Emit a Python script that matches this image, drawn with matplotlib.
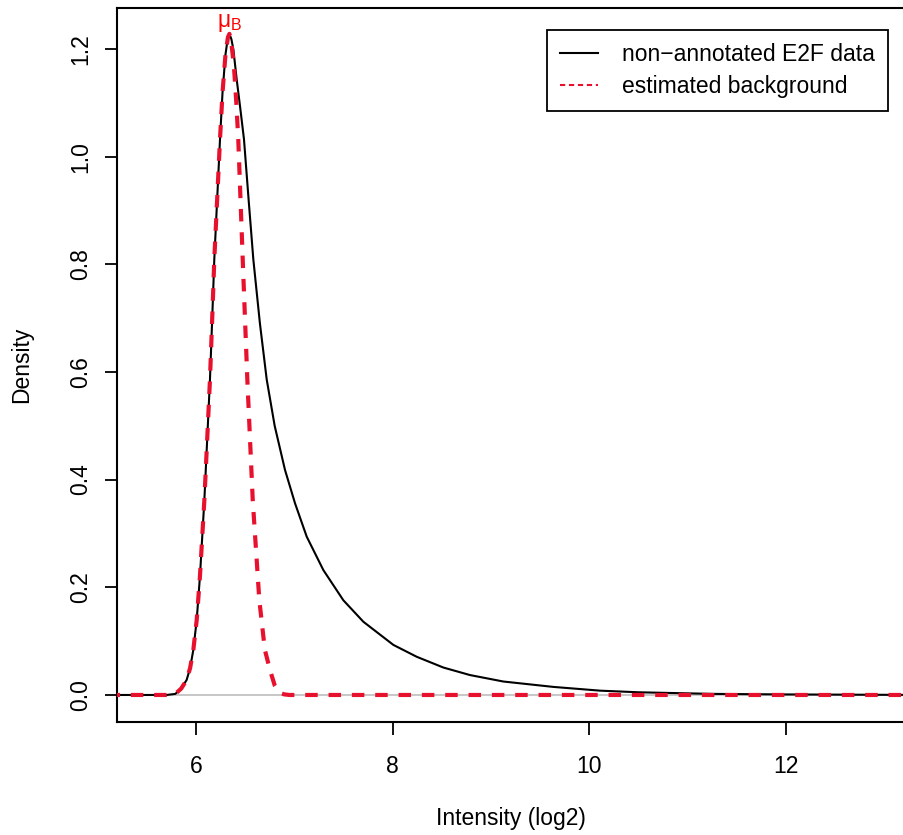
import matplotlib
matplotlib.use("Agg")
import matplotlib.pyplot as plt
from matplotlib.lines import Line2D

plt.rcParams['font.family'] = ['Liberation Sans', 'DejaVu Sans']
plt.rcParams['mathtext.fontset'] = 'custom'
plt.rcParams['mathtext.rm'] = 'Liberation Sans'

data_x = [5.10, 5.70, 5.79, 5.85, 5.905, 5.94, 5.973, 6.007, 6.04, 6.085, 6.11, 6.142,
          6.165, 6.186, 6.215, 6.244, 6.27, 6.30, 6.325, 6.34, 6.36, 6.38, 6.414, 6.45,
          6.488, 6.535, 6.583, 6.65, 6.719, 6.80, 6.905, 7.007, 7.126, 7.295, 7.498,
          7.702, 8.007, 8.244, 8.515, 8.786, 9.125, 9.633, 10.11, 10.5, 11.26, 12.0,
          13.0, 14.0]
data_y = [0.0, 0.0, 0.002, 0.012, 0.028, 0.05, 0.084, 0.139, 0.22, 0.362, 0.46, 0.586,
          0.70, 0.809, 0.92, 1.032, 1.12, 1.19, 1.222, 1.228, 1.218, 1.199, 1.143, 1.09,
          1.032, 0.92, 0.809, 0.69, 0.586, 0.50, 0.418, 0.356, 0.294, 0.232, 0.176,
          0.136, 0.093, 0.071, 0.051, 0.037, 0.025, 0.015, 0.008, 0.005, 0.002, 0.001,
          0.0003, 0.0]

# Estimated background density
bg_x = [5.10, 5.70, 5.79, 5.85, 5.905, 5.94, 5.973, 6.007, 6.04, 6.085, 6.11, 6.142,
        6.165, 6.186, 6.215, 6.244, 6.27, 6.30, 6.325, 6.34, 6.36, 6.385, 6.41, 6.43,
        6.475, 6.522, 6.577, 6.644, 6.70, 6.753, 6.80, 6.85, 6.90, 6.95, 14.0]
bg_y = [0.0, 0.0, 0.002, 0.012, 0.028, 0.05, 0.084, 0.139, 0.22, 0.362, 0.46, 0.586,
        0.70, 0.809, 0.92, 1.032, 1.12, 1.19, 1.222, 1.228, 1.21, 1.17, 1.10, 1.032,
        0.809, 0.586, 0.362, 0.176, 0.084, 0.046, 0.018, 0.004, 0.001, 0.0, 0.0]

mu_b_x = 6.34
mu_b_y = 1.228

x_ticks = [6, 8, 10, 12]
y_ticks = [0.0, 0.2, 0.4, 0.6, 0.8, 1.0, 1.2]
y_tick_labels = ["0.0", "0.2", "0.4", "0.6", "0.8", "1.0", "1.2"]
legend_labels = ["non\u2212annotated E2F data", "estimated background"]

RED = '#E8112D'
FS = 16.5
W, H = 904, 835
fig = plt.figure(figsize=(W / 100, H / 100), dpi=100)
left, right, top, bottom = 117, 905, 8, 722
ax = fig.add_axes([left / W, 1 - bottom / H, (right - left) / W, (bottom - top) / H])

ax.axhline(0, color='#BEBEBE', lw=1.2, zorder=1)
ax.plot(data_x, data_y, color='black', lw=1.5, zorder=2)
ax.plot(bg_x, bg_y, color=RED, lw=3.0, dashes=(3.0, 2.6), zorder=3)

ax.text(mu_b_x, mu_b_y, '$\\mathrm{\u03bc}_{\\mathrm{B}}$', color='#FF0000',
        fontsize=FS, ha='center', va='bottom')

ax.set_xlim(5.1966, 13.21)
ax.set_ylim(-0.0502, 1.276)
ax.set_xticks(x_ticks)
ax.set_xticklabels([str(t) for t in x_ticks])
ax.set_yticks(y_ticks)
ax.set_yticklabels(y_tick_labels, rotation=90, va='center')
ax.tick_params(direction='out', length=9, width=1.3, labelsize=FS)
ax.tick_params(axis='x', pad=15)
ax.tick_params(axis='y', pad=9)
for s in ax.spines.values():
    s.set_linewidth(1.5)

ax.set_xlabel('Intensity (log2)', fontsize=FS, labelpad=21)
ax.set_ylabel('Density', fontsize=FS, labelpad=26)

handles = [Line2D([], [], color='black', lw=1.5),
           Line2D([], [], color=RED, lw=1.5, dashes=(2.5, 1.8))]
leg = ax.legend(handles, legend_labels, loc='upper right', bbox_to_anchor=(0.978, 0.969),
                borderaxespad=0, fontsize=FS, frameon=True, fancybox=False,
                edgecolor='black', handlelength=1.66, handletextpad=1.05,
                labelspacing=0.42, borderpad=0.55)
leg.get_frame().set_linewidth(1.3)
leg.get_frame().set_alpha(1)

fig.savefig('out.png', dpi=100)
